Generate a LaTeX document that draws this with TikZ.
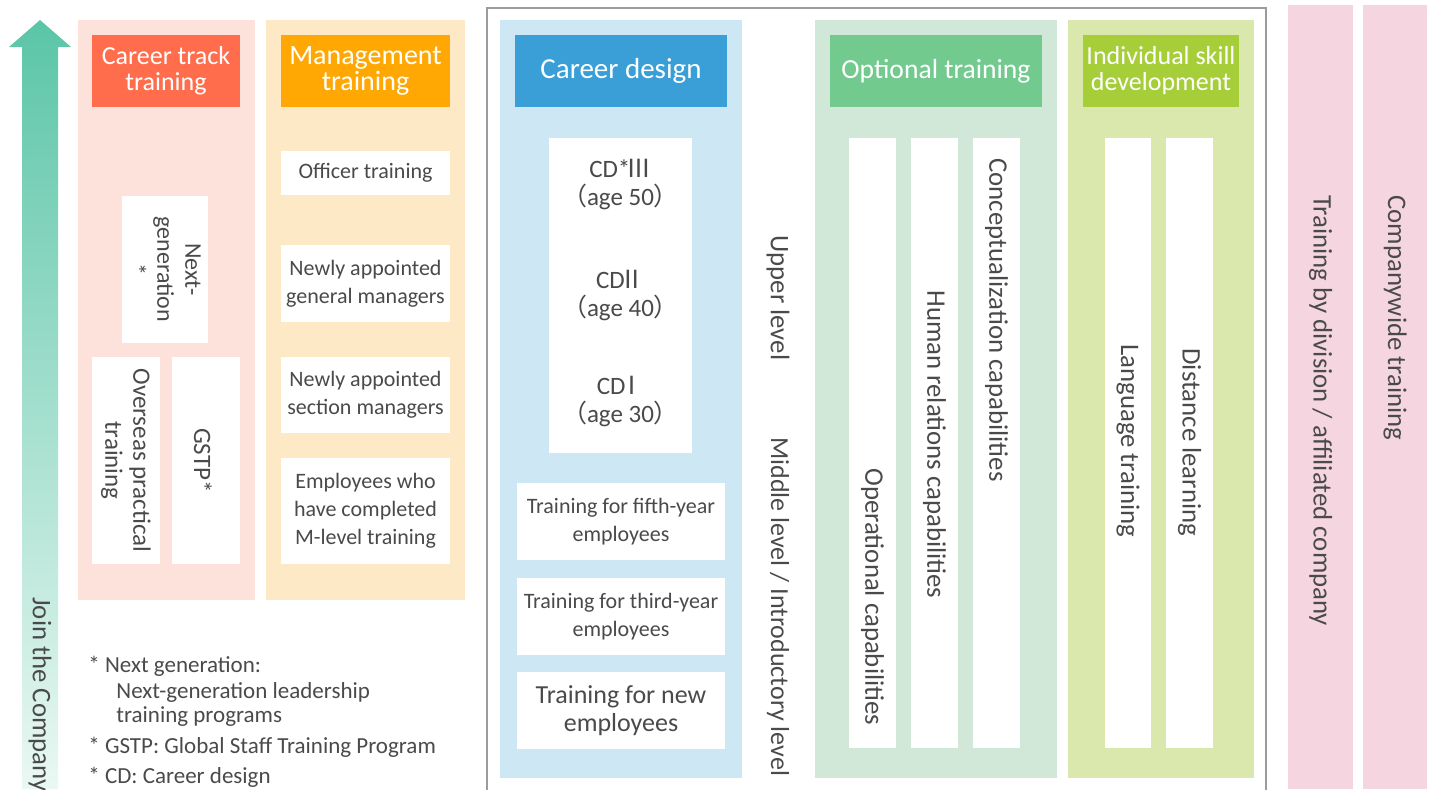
\documentclass[tikz,border=0pt]{standalone}
\usepackage{fontspec}
\setmainfont{Carlito}
\newfontfamily\cjk{Noto Sans CJK JP}
\usetikzlibrary{positioning, fit, backgrounds, arrows.meta}

\definecolor{txtgray}{HTML}{4A4A4A}
\definecolor{framegray}{HTML}{9C9C9C}
\definecolor{arrowtop}{HTML}{5BC5A7}
\definecolor{arrowbot}{HTML}{EAF8F3}
\definecolor{ctback}{HTML}{FDE2DC}
\definecolor{cthead}{HTML}{FF6D4C}
\definecolor{mgback}{HTML}{FDE9C6}
\definecolor{mghead}{HTML}{FFA703}
\definecolor{cdback}{HTML}{CDE7F5}
\definecolor{cdhead}{HTML}{3A9FD6}
\definecolor{optback}{HTML}{D1E8D9}
\definecolor{opthead}{HTML}{72CA8F}
\definecolor{indback}{HTML}{DAE8AE}
\definecolor{indhead}{HTML}{A6CE39}
\definecolor{stripback}{HTML}{F5D6E0}

\tikzstyle{panel_node} = [rectangle, inner sep=0pt, draw=none]
\tikzstyle{white_box} = [rectangle, inner sep=0pt, draw=none, fill=white]
\tikzstyle{head_text} = [inner sep=0pt, text=white, align=center, font=\fontsize{14.5}{13}\selectfont]
\tikzstyle{head_two} = [head_text, font=\fontsize{13}{13}\selectfont]
\tikzstyle{item_text} = [inner sep=0pt, text=txtgray, align=center, font=\fontsize{11}{14}\selectfont]
\tikzstyle{vert_label} = [rotate=-90, inner sep=0pt, text=txtgray, align=center, font=\fontsize{13.4}{14}\selectfont]
\tikzstyle{note_text} = [anchor=west, inner sep=0pt, text=txtgray, font=\fontsize{11.5}{12.5}\selectfont]

\begin{document}
\begin{tikzpicture}[x=0.5pt, y=-0.5pt]
\useasboundingbox (0,0) rectangle (1432,789);

% rising arrow on the left
\shade [top color=arrowtop, bottom color=arrowbot] (9,47) -- (40,20) -- (71,47) -- (58,47) -- (58,789) -- (22,789) -- (22,47) -- cycle;
\node (join_lbl) [vert_label, anchor=west] at (40,597) {Join the Company};

% career track training
\node (ct_panel) [panel_node, fill=ctback, fit={(78,20)(255,600)}] {};
\node (ct_head) [panel_node, fill=cthead, fit={(92,35)(240,107)}] {};
\node [head_two] at (ct_head.center) {Career track\\training};
\node (nextgen_box) [white_box, fit={(122,196)(208,343)}] {};
\node (nextgen) [vert_label, font=\fontsize{12}{14}\selectfont] at (nextgen_box.center) {Next-\\generation\\*};
\node (overseas_box) [white_box, fit={(92,357)(160,564)}] {};
\node (overseas) [vert_label, font=\fontsize{12.5}{14}\selectfont] at (overseas_box.center) {Overseas practical\\training};
\node (gstp_box) [white_box, fit={(172,357)(240,564)}] {};
\node (gstp) [vert_label, font=\fontsize{12.5}{14}\selectfont] at ([xshift=-1.5pt]gstp_box.center) {GSTP*};

% management training
\node (mg_panel) [panel_node, fill=mgback, fit={(266,20)(465,600)}] {};
\node (mg_head) [panel_node, fill=mghead, fit={(281,35)(450,107)}] {};
\node [head_two, font=\fontsize{14}{13}\selectfont] at (mg_head.center) {Management\\training};
\node (officer) [white_box, fit={(281,151)(450,195)}] {};
\node [item_text] at (officer.center) {Officer training};
\node (gm_new) [white_box, fit={(281,245)(450,322)}] {};
\node [item_text] at (gm_new.center) {Newly appointed\\general managers};
\node (sm_new) [white_box, fit={(281,357)(450,433)}] {};
\node [item_text] at (sm_new.center) {Newly appointed\\section managers};
\node (m_level) [white_box, fit={(281,458)(450,564)}] {};
\node [item_text] at (m_level.center) {Employees who\\have completed\\M-level training};

% notes
\node (note_a) [note_text] at (88,666) {* Next generation:};
\node (note_b) [note_text] at (116,692) {Next-generation leadership};
\node (note_c) [note_text] at (116,717) {training programs};
\node (note_d) [note_text] at (88,747) {* GSTP: Global Staff Training Program};
\node (note_e) [note_text] at (88,777) {* CD: Career design};

% frame round the middle block
\draw [framegray, line width=0.8pt] (487,795) -- (487,8) -- (1266,8) -- (1266,795);

% career design
\node (cd_panel) [panel_node, fill=cdback, fit={(500,20)(742,778)}] {};
\node (cd_head) [panel_node, fill=cdhead, fit={(515,35)(727,107)}] {};
\node [head_text] at (cd_head.center) {Career design};
\node (cd_box) [white_box, fit={(549,138)(692,453)}] {};
\node (cd3) [item_text, font=\fontsize{12.5}{14}\selectfont] at (620.5,184) {CD*\hspace{-0.15em}{\cjk Ⅲ}\\{\cjk （}age 50{\cjk ）}};
\node (cd2) [item_text, font=\fontsize{12.5}{14}\selectfont] at (620.5,295) {CD\hspace{-0.2em}{\cjk Ⅱ}\\{\cjk （}age 40{\cjk ）}};
\node (cd1) [item_text, font=\fontsize{12.5}{14}\selectfont] at (620.5,401) {CD\hspace{-0.25em}{\cjk Ⅰ}\\{\cjk （}age 30{\cjk ）}};
\node (fifth) [white_box, fit={(517,483)(725,560)}] {};
\node [item_text] at (fifth.center) {Training for fifth-year\\employees};
\node (third) [white_box, fit={(517,578)(725,655)}] {};
\node [item_text] at (third.center) {Training for third-year\\employees};
\node (new_emp) [white_box, fit={(517,672)(725,749)}] {};
\node [item_text, font=\fontsize{13}{14}\selectfont] at (new_emp.center) {Training for new\\employees};

% levels
\node (lv_upper) [vert_label, anchor=west] at (778,235) {Upper level};
\node (lv_middle) [vert_label, anchor=west, font=\fontsize{13}{14}\selectfont] at (778,437) {Middle level / Introductory level};

% optional training
\node (opt_panel) [panel_node, fill=optback, fit={(815,20)(1057,778)}] {};
\node (opt_head) [panel_node, fill=opthead, fit={(830,35)(1042,107)}] {};
\node [head_text, font=\fontsize{13.8}{13}\selectfont] at (opt_head.center) {Optional training};
\node (op_col) [white_box, fit={(849,138)(896,748)}] {};
\node (hr_col) [white_box, fit={(911,138)(958,748)}] {};
\node (cc_col) [white_box, fit={(973,138)(1020,748)}] {};
\node (op_lbl) [vert_label, anchor=west] at (op_col.center |- 0,468) {Operational capabilities};
\node (hr_lbl) [vert_label, anchor=west] at (hr_col.center |- 0,290) {Human relations capabilities};
\node (cc_lbl) [vert_label, anchor=west] at (cc_col.center |- 0,158) {Conceptualization capabilities};

% individual skill development
\node (ind_panel) [panel_node, fill=indback, fit={(1068,20)(1254,778)}] {};
\node (ind_head) [panel_node, fill=indhead, fit={(1083,35)(1239,107)}] {};
\node [head_two] at (ind_head.center) {Individual skill\\development};
\node (lang_col) [white_box, fit={(1105,138)(1151,748)}] {};
\node (dist_col) [white_box, fit={(1166,138)(1213,748)}] {};
\node (lang_lbl) [vert_label, anchor=west] at (lang_col.center |- 0,344) {Language training};
\node (dist_lbl) [vert_label, anchor=west] at (dist_col.center |- 0,348) {Distance learning};

% strips on the right
\node (div_strip) [panel_node, fill=stripback, fit={(1288,5)(1353,789)}] {};
\node (cw_strip) [panel_node, fill=stripback, fit={(1363,5)(1427,789)}] {};
\node (div_lbl) [vert_label, anchor=west] at (div_strip.center |- 0,195) {Training by division / affiliated company};
\node (cw_lbl) [vert_label, anchor=west] at (cw_strip.center |- 0,195) {Companywide training};
\end{tikzpicture}
\end{document}
